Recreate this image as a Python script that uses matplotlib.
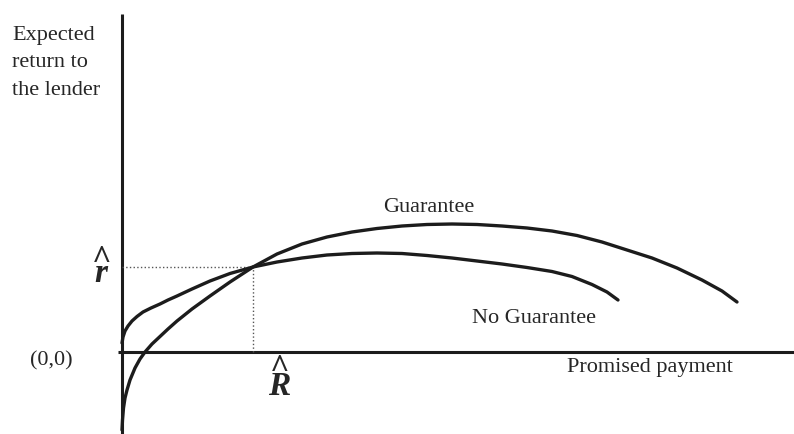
import numpy as np
import matplotlib
matplotlib.use('Agg')
import matplotlib.pyplot as plt

plt.rcParams['font.family'] = ['Liberation Serif', 'DejaVu Serif']

# 곡선 데이터 (그림에서 읽은 값, 원점 기준)
no_guar_x = [0.0, 0.1, 0.3, 0.6, 1.0, 1.5, 2.1, 2.9, 3.8, 4.6, 5.5, 7.0, 8.8,
             10.8, 13.1, 15.5, 18.0, 20.5, 23.0, 25.5, 28.0, 30.5, 33.0, 35.5,
             38.0, 40.5, 43.0, 45.0, 47.0, 48.5, 49.6]
no_guar_y = [0.9, 1.5, 2.1, 2.6, 3.1, 3.55, 4.0, 4.4, 4.8, 5.2, 5.6, 6.3, 7.1,
             7.85, 8.5, 9.0, 9.4, 9.7, 9.85, 9.9, 9.85, 9.65, 9.4, 9.1,
             8.8, 8.45, 8.05, 7.55, 6.75, 6.0, 5.2]

guar_x = [0.0, 0.05, 0.15, 0.3, 0.5, 0.8, 1.3, 1.8, 2.3, 3.0, 3.8, 4.6, 5.5,
          7.0, 8.8, 10.8, 13.1, 15.5, 18.0, 20.5, 23.0, 25.5, 28.0, 30.5, 33.0,
          35.5, 38.0, 40.5, 43.0, 45.5, 48.0, 50.5, 53.0, 55.5, 58.0, 60.0, 61.5]
guar_y = [-7.8, -6.8, -5.6, -4.6, -3.8, -2.8, -1.6, -0.7, 0.0, 0.8, 1.55, 2.3, 3.1,
          4.3, 5.6, 7.0, 8.5, 9.8, 10.8, 11.5, 12.0, 12.35, 12.6, 12.75, 12.8,
          12.75, 12.6, 12.4, 12.1, 11.65, 11.0, 10.2, 9.4, 8.4, 7.2, 6.1, 5.0]

# 교차점 (R hat, r hat)
R_hat = 13.1
r_hat = 8.5

ink = '#1c1c1c'
txt = '#262626'

fig = plt.figure(figsize=(7.94, 4.34), dpi=100)
ax = fig.add_axes([0, 0, 1, 1])
ax.set_xlim(-12.2, 67.2)
ax.set_ylim(-8.2, 35.2)
ax.axis('off')

# 축
ax.plot([0, 0], [-8.2, 33.8], color=ink, lw=2.2, solid_capstyle='butt')
ax.plot([-0.4, 67.2], [0, 0], color=ink, lw=2.2, solid_capstyle='butt')

# 점선
ax.plot([0, R_hat], [r_hat, r_hat], color='#555555', lw=1, ls=':')
ax.plot([R_hat, R_hat], [0, r_hat], color='#555555', lw=1, ls=':')

# 곡선
ax.plot(no_guar_x, no_guar_y, color=ink, lw=2.4, solid_capstyle='round')
ax.plot(guar_x, guar_y, color=ink, lw=2.4, solid_capstyle='round')

# 라벨
ax.text(-11.0, 32.6, 'Expected\nreturn to\nthe lender', fontsize=16,
        color=txt, ha='left', va='top', linespacing=1.6)
ax.text(-7.1, -0.9, '(0,0)', fontsize=16, color=txt, ha='center', va='center')
ax.text(26.1, 14.0, 'Guarantee', fontsize=16, color=txt, ha='left', va='baseline')
ax.text(35.0, 2.9, 'No Guarantee', fontsize=16, color=txt, ha='left', va='baseline')
ax.text(44.5, -2.0, 'Promised payment', fontsize=16, color=txt, ha='left', va='baseline')

# r hat / R hat (한 텍스트에 두 줄)
ax.text(-2.1, 7.0, '^\nr', fontsize=24, fontweight='bold', fontstyle='italic',
        color=txt, ha='center', va='baseline', multialignment='center',
        linespacing=0.3)
ax.text(15.7, -4.3, '^\nR', fontsize=24, fontweight='bold', fontstyle='italic',
        color=txt, ha='center', va='baseline', multialignment='center',
        linespacing=0.45)

plt.savefig('out.png', dpi=100)
